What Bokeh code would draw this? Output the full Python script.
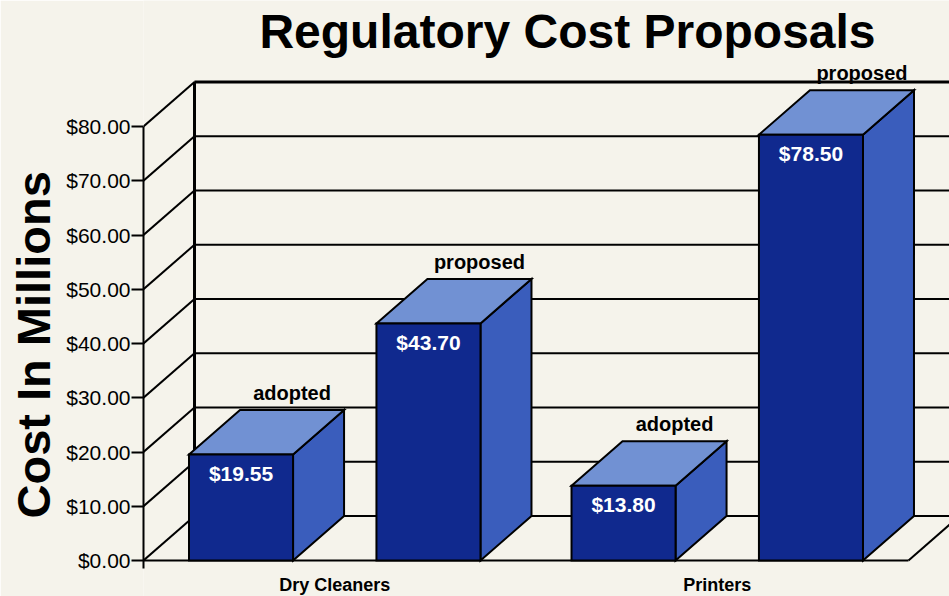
from bokeh.plotting import figure
from bokeh.models import Range1d, FixedTicker, NumeralTickFormatter, Label, ColumnDataSource, Title
from bokeh.core.properties import value
from bokeh.embed import file_html
from bokeh.resources import INLINE

# ---- data ----
categories = ["Dry Cleaners", "Printers"]
series = ["adopted", "proposed"]
adopted = [19.55, 13.80]
proposed = [43.70, 78.50]
y_ticks = [0, 10, 20, 30, 40, 50, 60, 70, 80]
title_text = "Regulatory Cost Proposals"
y_title = "Cost In Millions"

# ---- layout / style constants ----
W, H = 949, 596
LEFT = 143            # canvas column of the front value axis
X_PX = 382.5          # pixels per category step
Y_PX = 5.425          # pixels per $1M
Y0 = 560              # canvas row of $0
DX = 51 / X_PX        # depth offset (x units)
DY = 44.5 / Y_PX      # depth offset (y units)
OFFSET = 0.245        # bar offset from group centre
HALF = 0.136          # half bar width
FONT = "Liberation Sans"
BG = "#f5f3eb"
FRONT = "#10298e"
TOP = "#7191d3"
SIDE = "#3a5dbc"

x_start = -0.5
x_end = x_start + (W - LEFT) / X_PX
y_end = Y0 / Y_PX
y_start = -(H - Y0) / Y_PX


def cx(px):
    return x_start + (px - LEFT) / X_PX


def cy(py):
    return (Y0 - py) / Y_PX


p = figure(width=W, height=H, output_backend="svg", toolbar_location=None,
           x_range=Range1d(x_start, x_end), y_range=Range1d(y_start, y_end),
           x_axis_location=None, min_border_left=LEFT, min_border_right=0,
           min_border_top=0, min_border_bottom=0)
p.background_fill_color = BG
p.border_fill_color = BG
p.outline_line_color = None
p.xgrid.visible = False
p.ygrid.visible = False

ax = p.yaxis[0]
ax.ticker = FixedTicker(ticks=y_ticks)
ax.formatter = NumeralTickFormatter(format="$0.00")
ax.bounds = (-8 / Y_PX, max(y_ticks))
ax.axis_line_width = 2
ax.axis_line_color = "black"
ax.major_tick_line_width = 2
ax.major_tick_out = 12
ax.major_tick_in = 0
ax.minor_tick_line_color = None
ax.major_label_standoff = 1
ax.major_label_text_font = FONT
ax.major_label_text_font_size = "21px"
ax.major_label_text_color = "black"

p.add_layout(Title(text=y_title, align="left", offset=78, standoff=8, text_font=FONT,
                   text_font_style="bold", text_font_size="47px", text_color="black"), "left")

# ---- 3D frame: back wall grid, side diagonals, floor ----
left_back = x_start + DX
right_front = len(categories) - 0.5
right_back = right_front + DX
grid_xs = [[left_back, right_back] for t in y_ticks]
grid_ys = [[t + DY, t + DY] for t in y_ticks]
p.multi_line(grid_xs, grid_ys, line_color="black", line_width=2)
p.multi_line([[x_start, left_back] for t in y_ticks],
             [[t, t + DY] for t in y_ticks], line_color="black", line_width=2)
top_t = max(y_ticks)
p.segment(x0=[left_back], y0=[top_t + DY], x1=[right_back], y1=[top_t + DY],
          line_color="black", line_width=3)
p.segment(x0=[left_back], y0=[DY], x1=[left_back], y1=[top_t + DY],
          line_color="black", line_width=3)
p.segment(x0=[x_start, right_front], y0=[0, 0], x1=[right_front, right_back], y1=[0, DY],
          line_color="black", line_width=2)

# ---- bars ----
bx, bv, bs = [], [], []
for i, c in enumerate(categories):
    for s, vals in enumerate([adopted, proposed]):
        bx.append(i + (-OFFSET if s == 0 else OFFSET))
        bv.append(vals[i])
        bs.append(series[s])

front_xs = [[x - HALF, x + HALF, x + HALF, x - HALF] for x in bx]
front_ys = [[0, 0, v, v] for v in bv]
top_xs = [[x - HALF, x + HALF, x + HALF + DX, x - HALF + DX] for x in bx]
top_ys = [[v, v, v + DY, v + DY] for v in bv]
side_xs = [[x + HALF, x + HALF + DX, x + HALF + DX, x + HALF] for x in bx]
side_ys = [[0, DY, v + DY, v] for v in bv]

p.patches(side_xs, side_ys, fill_color=SIDE, line_color="black", line_width=2, line_join="miter")
p.patches(top_xs, top_ys, fill_color=TOP, line_color="black", line_width=2, line_join="miter")
p.patches(front_xs, front_ys, fill_color=FRONT, line_color="black", line_width=2, line_join="miter")

vsrc = ColumnDataSource(dict(x=bx, y=[v - 19 / Y_PX for v in bv],
                             t=["${:.2f}".format(v) for v in bv]))
p.text(x="x", y="y", text="t", source=vsrc, text_color="white", text_font=value(FONT),
       text_font_style="bold", text_font_size="21px", text_align="center",
       text_baseline="middle")

ssrc = ColumnDataSource(dict(x=[x + DX for x in bx], y=[v + DY + 17 / Y_PX for v in bv], t=bs))
p.text(x="x", y="y", text="t", source=ssrc, text_color="black", text_font=value(FONT),
       text_font_style="bold", text_font_size="20px", text_align="center",
       text_baseline="middle")

csrc = ColumnDataSource(dict(x=list(range(len(categories))),
                             y=[cy(584)] * len(categories), t=categories))
p.text(x="x", y="y", text="t", source=csrc, text_color="black", text_font=value(FONT),
       text_font_style="bold", text_font_size="18px", text_align="center",
       text_baseline="middle")

# ---- main title ----
p.add_layout(Label(x=cx(567), y=cy(31), text=title_text, text_font=FONT,
                   text_font_style="bold", text_font_size="48px", text_align="center",
                   text_baseline="alphabetic", text_color="black"))

open("out.html", "w").write(file_html(p, INLINE))
